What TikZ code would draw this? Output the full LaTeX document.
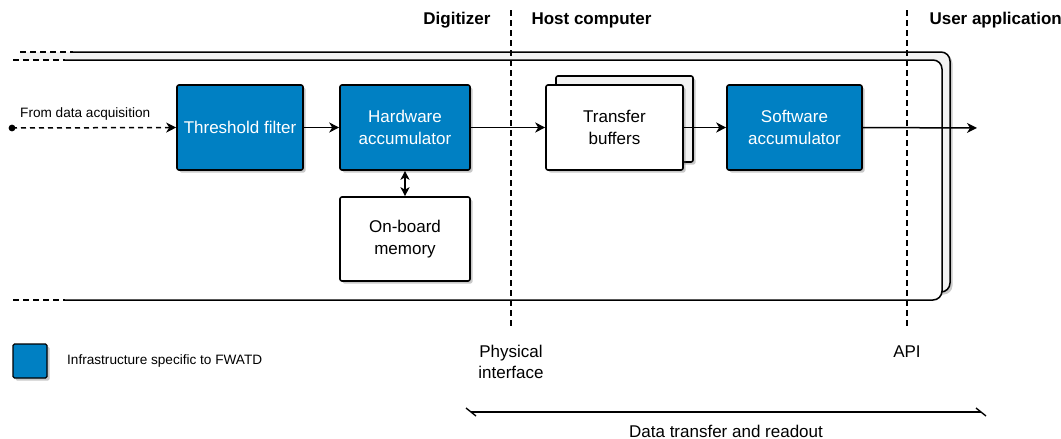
\documentclass[tikz,border=0pt]{standalone}
\usepackage{fontspec}
\setmainfont{Liberation Sans}
\usetikzlibrary{arrows.meta,shadows}
\definecolor{fwblue}{HTML}{0080C3}
\definecolor{stackgrey}{HTML}{F2F2F2}
\tikzset{
  boxtext/.style={font=\fontsize{17}{22.5}\selectfont, align=center},
  smalltext/.style={font=\fontsize{13.6}{16}\selectfont},
  headtext/.style={font=\fontsize{17}{20}\selectfont\bfseries},
  shade/.style={drop shadow={shadow xshift=2.5pt, shadow yshift=-2.5pt, opacity=0.35, fill=black!60}},
  block/.style={draw=black, line width=1.6pt, rounded corners=2pt, shade, boxtext,
                inner sep=0pt, minimum height=85pt},
  fwblock/.style={block, fill=fwblue, text=white},
  plainblock/.style={block, fill=white, text=black},
  flow/.style={line width=1.5pt, -{Stealth[length=10pt,width=10pt,inset=3pt]}},
  boundary/.style={line width=1.5pt, dash pattern=on 6pt off 4pt},
  frameline/.style={line width=1.5pt, draw=black},
}
\begin{document}
\begin{tikzpicture}[x=1pt,y=-1pt]
\useasboundingbox (0,0) rectangle (1061,439);

% stacked frame around the processing chain
\fill[stackgrey] (20,52) rectangle (73,60);
\filldraw[frameline, fill=stackgrey, rounded corners=9pt, shade]
  (73,52) -- (950,52) -- (950,292) -- (73,292);
\filldraw[frameline, fill=white, rounded corners=9pt]
  (65,60) -- (942,60) -- (942,300) -- (65,300);
\draw[frameline, dash pattern=on 6pt off 4pt] (20,52) -- (73,52);
\draw[frameline, dash pattern=on 6pt off 4pt] (13,60) -- (65,60);
\draw[frameline, dash pattern=on 6pt off 4pt] (13,300) -- (65,300);

% domain boundaries
\coordinate (b1top) at (511,10);
\coordinate (b1bot) at (511,326);
\coordinate (b2top) at (907,10);
\coordinate (b2bot) at (907,326);
\draw[boundary] (b1top) -- (b1bot);
\draw[boundary] (b2top) -- (b2bot);

% domain headings
\node[headtext, anchor=east] (hdig) at (494,20) {Digitizer};
\node[headtext, anchor=west] (hhost) at (528,20) {Host computer};
\node[headtext, anchor=west] (huser) at (926,20) {User application};

% processing blocks
\node[fwblock, minimum width=126pt] (thr) at (240,127.5) {Threshold filter};
\node[fwblock, minimum width=130pt] (hwacc) at (405,127.5) {Hardware\\accumulator};
\node[plainblock, minimum width=130pt, minimum height=84pt] (mem) at (405,239) {On-board\\memory};
\node[draw=black, line width=1.6pt, rounded corners=2pt, fill=stackgrey, shade,
      minimum width=137pt, minimum height=86pt] (tbback) at (624.5,119) {};
\node[plainblock, minimum width=137pt] (tb) at (614.5,127.5) {Transfer\\buffers};
\node[fwblock, minimum width=135pt] (swacc) at (794.5,127.5) {Software\\accumulator};

% data flow
\coordinate (src) at (12,128);
\coordinate (out) at (977,128);
\fill (src) circle (3.4pt);
\draw[flow, dash pattern=on 5pt off 4pt] (src) -- (thr.west);
\node[smalltext, anchor=south west, inner sep=0pt] (srclbl) at (20,121) {From data acquisition};
\draw[flow] (thr.east) -- (hwacc.west);
\draw[flow] (hwacc.east) -- (tb.west);
\draw[flow] (tb.east) -- (swacc.west);
\draw[flow] (swacc.east) -- (out);
\draw[line width=1.5pt, {Stealth[length=9pt,width=9pt,inset=2.5pt]}-{Stealth[length=9pt,width=9pt,inset=2.5pt]}]
  (hwacc.south) -- (mem.north);

% interface labels
\node[boxtext, font=\fontsize{17}{21}\selectfont] (phys) at (511,361.5) {Physical\\interface};
\node[boxtext] (api) at (907,352) {API};

% legend
\node[draw=black, line width=1.3pt, fill=fwblue, rounded corners=1.5pt, shade,
      minimum width=34pt, minimum height=34pt, inner sep=0pt] (legbox) at (30,361) {};
\node[smalltext, anchor=west, inner sep=0pt] (legtext) at (67,361) {Infrastructure specific to FWATD};

% extent of data transfer and readout
\coordinate (dl) at (471,412);
\coordinate (dr) at (981,412);
\draw[line width=1.4pt] (dl) -- (dr);
\draw[line width=1.4pt] ([shift={(-5,-4)}]dl) -- ([shift={(5,4)}]dl);
\draw[line width=1.4pt] ([shift={(-5,-4)}]dr) -- ([shift={(5,4)}]dr);
\node[boxtext] (dtlbl) at (726,431) {Data transfer and readout};
\end{tikzpicture}
\end{document}
